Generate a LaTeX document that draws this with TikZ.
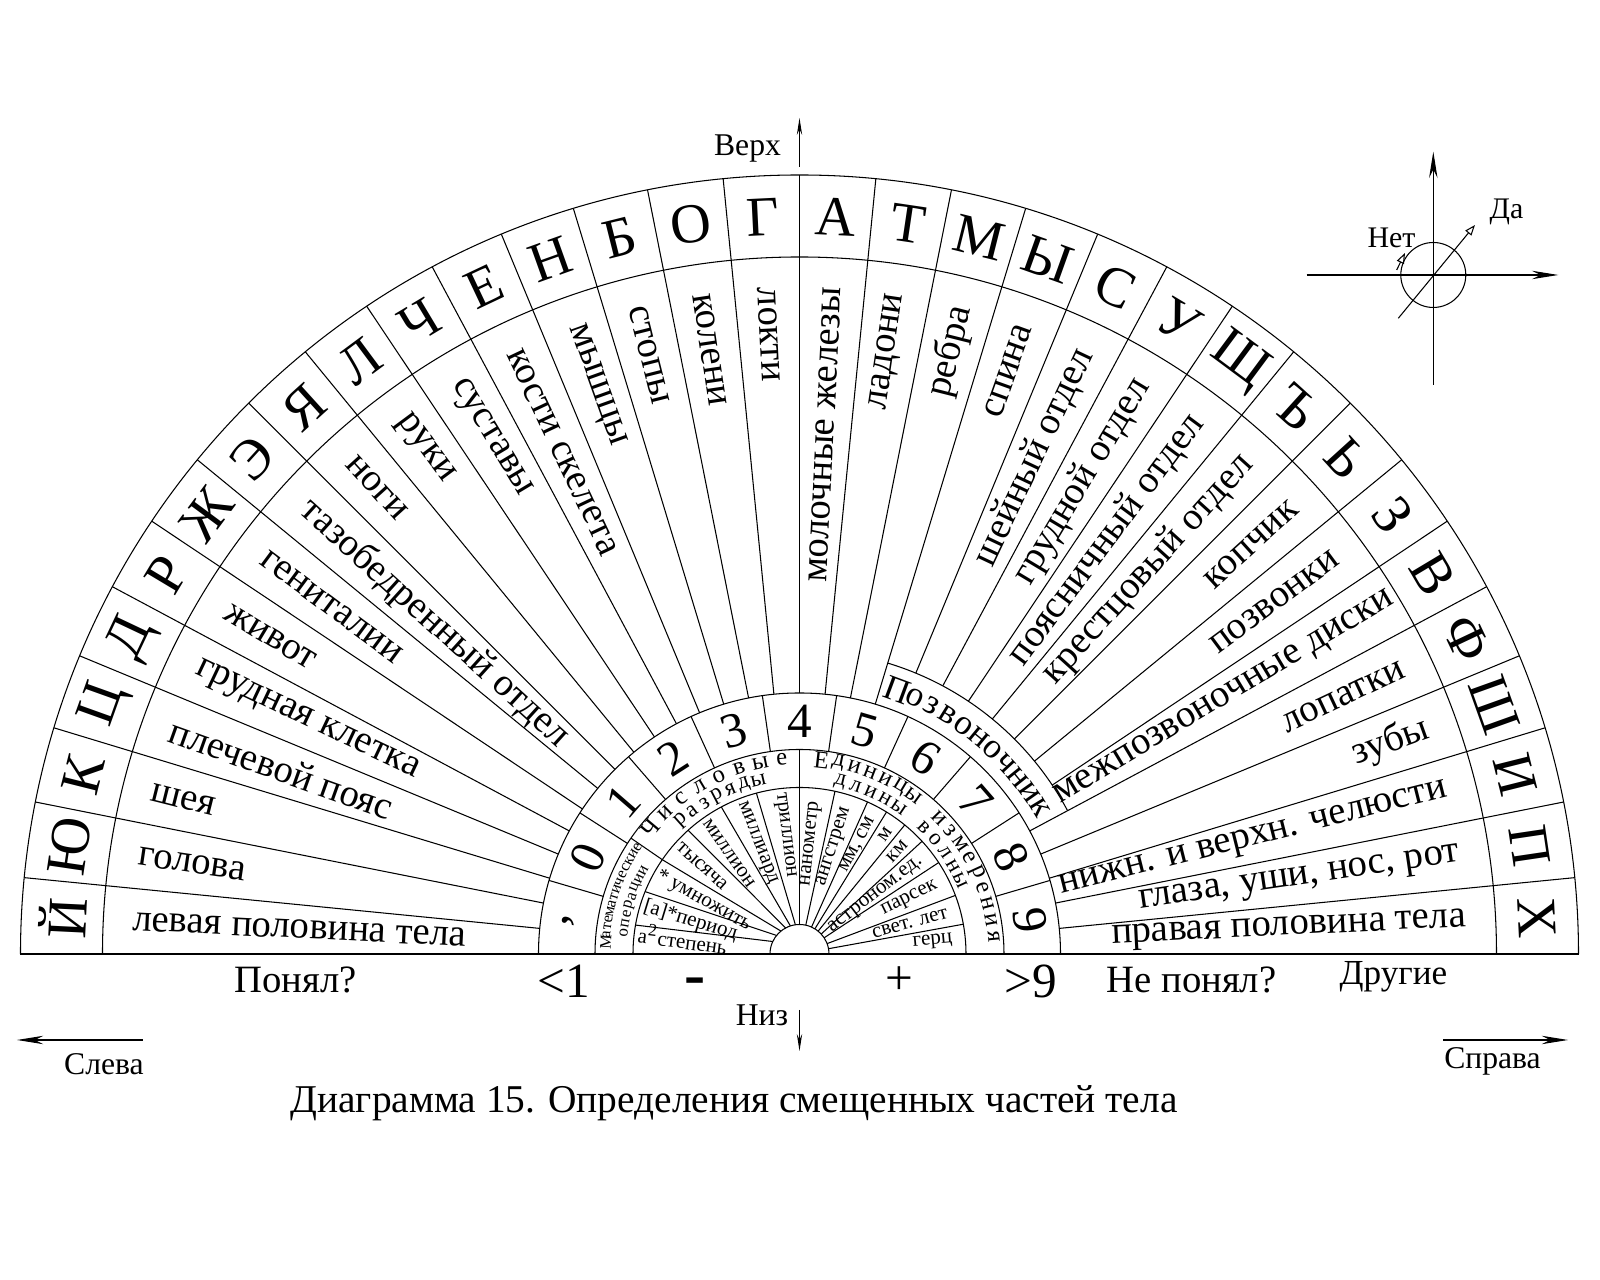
\documentclass[tikz,border=0pt]{standalone}
\usepackage{fontspec}
\setmainfont{Liberation Serif}
\usetikzlibrary{arrows.meta}

\begin{document}
\begin{tikzpicture}[x=0.01cm,y=0.01cm,line width=0.3pt,
        bigletter/.style={font=\fontsize{16}{16}\selectfont,inner sep=0pt},
        numlabel/.style={font=\fontsize{14}{14}\selectfont,inner sep=0pt},
        bodylabel/.style={font=\fontsize{11}{11}\selectfont,inner sep=0pt},
        sublabel/.style={font=\fontsize{6}{6}\selectfont,inner sep=0pt},
        sidelabel/.style={font=\fontsize{9}{9}\selectfont,inner sep=0pt},
        answer/.style={font=\fontsize{11}{11}\selectfont,inner sep=0pt},
        bigsign/.style={font=\fontsize{14}{14}\selectfont,inner sep=0pt},
        dirarrow/.style={->,>={Stealth[length=7.5pt,width=2.4pt]}},
        thinarrow/.style={->,>={Stealth[length=4.8pt,width=1.5pt]}},
        openarrow/.style={->,>={Triangle[open,length=3pt,width=2.2pt]}}]
    \useasboundingbox (-799.5,-326) rectangle (800.5,954);
    % half disc and its rings
    \draw (-779,0) -- (779,0);
    \foreach \rr in {779,697,261,204.5,166.5,29.5}
        \draw (\rr,0) arc (0:180:\rr);
    \draw (28.125:304) arc (28.125:73.125:304);
    % spokes of the letter and body rings
    \foreach \k in {1,...,19}
        \draw ({180-5.625*\k}:261) -- ({180-5.625*\k}:779);
    \foreach \k in {20,...,26}
        \draw ({180-5.625*\k}:304) -- ({180-5.625*\k}:779);
    \foreach \k in {27,...,31}
        \draw ({180-5.625*\k}:261) -- ({180-5.625*\k}:779);
    % spokes of the digit ring
    \foreach \k in {1,...,10}
        \draw ({180-180/11*\k}:204.5) -- ({180-180/11*\k}:261);
    % inner fans
    \draw (90:29.5) -- (90:204.5);
    \draw (145.5:166.5) -- (145.5:204.5);
    \foreach \o/\ii in {170/155,158/141,145.5/129,132/118,118/108,105/98}
        \draw (\ii:29.5) -- (\o:166.5);
    \foreach \o in {77.7,65.9,58.5,50.8,42.6,33.3,20.6,10.3}
        \draw (\o:29.5) -- (\o:166.5);

    % alphabet on the rim
    \foreach \lett [count=\i] in {Й,Ю,К,Ц,Д,Р,Ж,Э,Я,Л,Ч,Е,Н,Б,О,Г,А,Т,М,Ы,С,У,Щ,Ъ,Ь,З,В,Ф,Ш,И,П,Х} {
        \pgfmathsetmacro\ang{180-5.625*(\i-0.5)}
        \pgfmathsetmacro\rot{\ang-90}
        \node[bigletter,rotate=\rot] (let\i) at (\ang:738) {\lett};
    }
    % body parts
    \foreach \txt [count=\i] in {левая половина тела, голова, шея, плечевой пояс,
            грудная клетка, живот, гениталии, тазобедренный отдел, ноги, руки,
            суставы, кости скелета, мышцы, стопы, колени, локти, молочные железы,
            ладони, ребра, спина, шейный отдел, грудной отдел, поясничный отдел,
            крестцовый отдел, копчик, позвонки, межпозвоночные диски, лопатки,
            зубы, нижн. и верхн. челюсти, {глаза, уши, нос, рот},
            правая половина тела} {
        \pgfmathsetmacro\ang{180-5.625*(\i-0.5)}
        \pgfmathsetmacro\rout{\i==27 ? 692 : 668}
        \ifnum\i<17
            \pgfmathsetmacro\rot{\ang-180}
            \node[bodylabel,anchor=west,rotate=\rot] (body\i) at (\ang:\rout) {\txt};
        \else
            \node[bodylabel,anchor=east,rotate=\ang] (body\i) at (\ang:\rout) {\txt};
        \fi
    }
    % digits
    \foreach \n [count=\i] in {{,},0,1,2,3,4,5,6,7,8,9} {
        \pgfmathsetmacro\ang{180-180/11*(\i-0.5)}
        \pgfmathsetmacro\rot{\ang-90}
        \node[numlabel,rotate=\rot] (num\i) at (\ang:233) {\n};
    }
    % orders and operations
    \foreach \ang/\txt [count=\i] in {172.5/{a\textsuperscript{2}степень}, 163/{[a]*период},
            151/{*\ умножить}, 138/тысяча, 125/миллион, 111/миллиард, 97/триллион} {
        \pgfmathsetmacro\rot{\ang-180}
        \node[sublabel,anchor=west,rotate=\rot] (order\i) at (\ang:163) {\txt};
    }
    % units
    \foreach \ang/\txt [count=\i] in {84/нанометр, 72/ангстрем, 62/{мм, см}, 54.5/м,
            46.5/км, 37.5/астроном.ед., 26.5/парсек, 15.5/свет. лет, 5.2/герц}
        \node[sublabel,anchor=east,rotate=\ang] (unit\i) at (\ang:154) {\txt};
    % spaced headings along the arcs
    \foreach \word/\first/\dang/\rr/\fsz [count=\w] in {
            {Ч,и,с,л,о,в,ы,е}/140/6.4/195/7,
            {р,а,з,р,я,д,ы}/131.6/4.7/178/6.5,
            {Е,д,и,н,и,ц,ы}/83.5/4.9/195/7,
            {и,з,м,е,р,е,н,и,я}/44.3/4.9/195/7,
            {д,л,и,н,ы}/76.8/5.23/177/6.5,
            {в,о,л,н,ы}/45.4/5.23/177/6.5,
            {М,а,т,е,м,а,т,и,ч,е,с,к,и,е}/176.6/2.3/194/4.6,
            {о,п,е,р,а,ц,и,и}/173/3/177/4.8,
            {П,о,з,в,о,н,о,ч,н,и,к}/69.6/3.83/281/10} {
        \foreach \ch [count=\j] in \word {
            \pgfmathsetmacro\ang{\first-\dang*(\j-1)}
            \pgfmathsetmacro\rot{\ang-90}
            \node[font=\fontsize{\fsz}{\fsz}\selectfont,inner sep=0pt,rotate=\rot]
                (arc\w-\j) at (\ang:\rr) {\ch};
        }
    }

    % up and down
    \coordinate (upfoot) at (0,787);
    \coordinate (uptip) at (0,836);
    \draw[thinarrow] (upfoot) -- (uptip);
    \node[sidelabel] (verh) at (-52,805) {Верх};
    \coordinate (downfoot) at (0,-56);
    \coordinate (downtip) at (0,-97);
    \draw[thinarrow] (downfoot) -- (downtip);
    \node[sidelabel] (niz) at (-37.5,-61) {Низ};
    % left and right
    \coordinate (leftfoot) at (-656.5,-86);
    \coordinate (lefttip) at (-782.5,-86);
    \draw[dirarrow] (leftfoot) -- (lefttip);
    \node[sidelabel] (sleva) at (-695.5,-110) {Слева};
    \coordinate (rightfoot) at (643.5,-86);
    \coordinate (righttip) at (768.5,-86);
    \draw[dirarrow] (rightfoot) -- (righttip);
    \node[sidelabel] (sprava) at (693,-107) {Справа};

    % answers under the base line
    \node[answer] (ponyal) at (-504,-26) {Понял?};
    \node[bigsign] (less) at (-236,-27) {<1};
    \node[font=\fontsize{18}{18}\selectfont\bfseries,inner sep=0pt] (minus) at (-104,-33) {-};
    \node[bigsign] (plus) at (100,-27) {+};
    \node[bigsign] (more) at (231,-27) {>9};
    \node[answer] (neponyal) at (392,-26) {Не понял?};
    \node[font=\fontsize{10}{10}\selectfont,inner sep=0pt] (drugie) at (594,-23) {Другие};

    % yes / no cross
    \coordinate (cc) at (633.8,679);
    \coordinate (vbot) at (633.8,569);
    \coordinate (vtop) at (633.8,802.3);
    \coordinate (hleft) at (507.2,679);
    \coordinate (hright) at (758.8,679);
    \coordinate (dfoot) at (598.8,635.7);
    \coordinate (dtip) at (675.5,729);
    \coordinate (nfoot) at (597.2,684);
    \coordinate (ntip) at (605.5,701);
    \draw[dirarrow] (vbot) -- (vtop);
    \draw[dirarrow] (hleft) -- (hright);
    \draw (cc) circle (32.5);
    \draw[openarrow] (dfoot) -- (dtip);
    \draw[openarrow] (nfoot) -- (ntip);
    \node[font=\fontsize{8.5}{8.5}\selectfont,inner sep=0pt] (net) at (592,716) {Нет};
    \node[font=\fontsize{8.5}{8.5}\selectfont,inner sep=0pt] (da) at (707,742) {Да};

    % caption
    \node[font=\fontsize{11.2}{11.2}\selectfont,inner sep=0pt] (caption) at (-65.5,-149)
        {Диаграмма 15. Определения смещенных частей тела};
\end{tikzpicture}
\end{document}
